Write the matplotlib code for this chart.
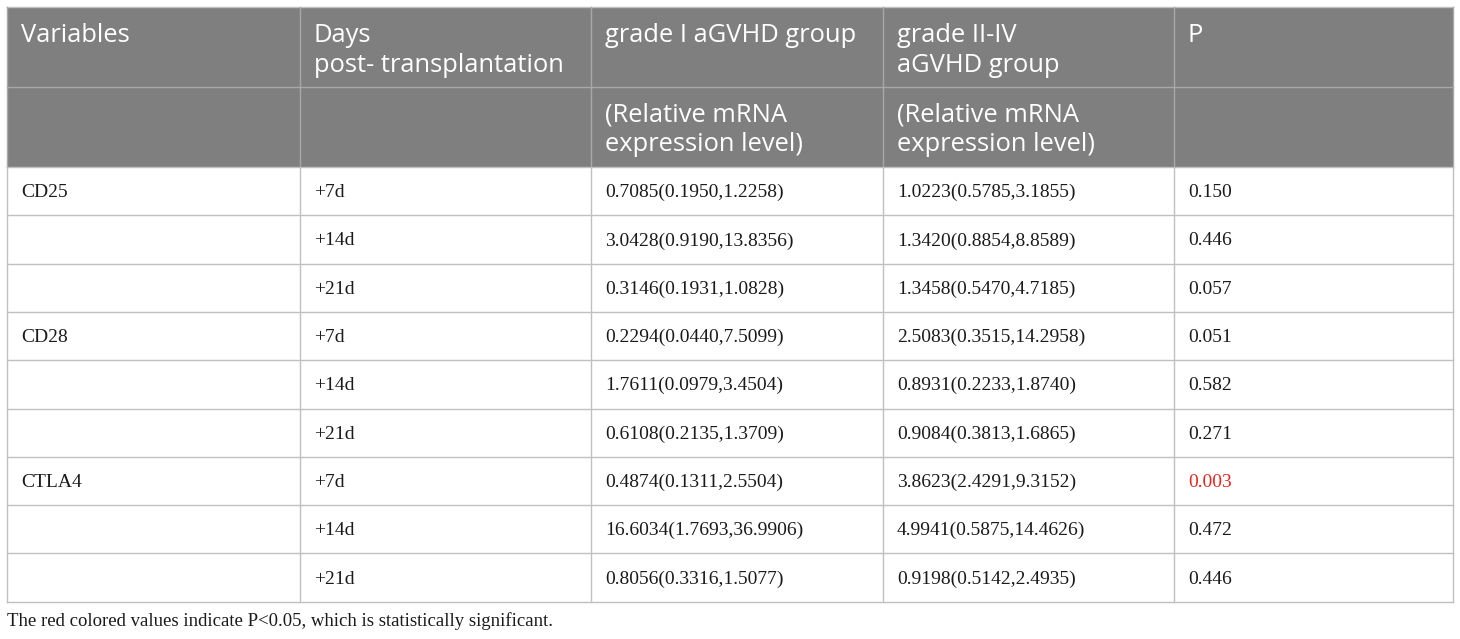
import matplotlib.pyplot as plt
from matplotlib.patches import Rectangle

# table content
header1 = [['Variables'], ['Days', 'post- transplantation'], ['grade I aGVHD group'],
           ['grade II-IV', 'aGVHD group'], ['P']]
header2 = [[], [], ['(Relative mRNA', 'expression level)'],
           ['(Relative mRNA', 'expression level)'], []]
variables = ['CD25', '', '', 'CD28', '', '', 'CTLA4', '', '']
days = ['+7d', '+14d', '+21d'] * 3
grade1 = ['0.7085(0.1950,1.2258)', '3.0428(0.9190,13.8356)', '0.3146(0.1931,1.0828)',
          '0.2294(0.0440,7.5099)', '1.7611(0.0979,3.4504)', '0.6108(0.2135,1.3709)',
          '0.4874(0.1311,2.5504)', '16.6034(1.7693,36.9906)', '0.8056(0.3316,1.5077)']
grade2 = ['1.0223(0.5785,3.1855)', '1.3420(0.8854,8.8589)', '1.3458(0.5470,4.7185)',
          '2.5083(0.3515,14.2958)', '0.8931(0.2233,1.8740)', '0.9084(0.3813,1.6865)',
          '3.8623(2.4291,9.3152)', '4.9941(0.5875,14.4626)', '0.9198(0.5142,2.4935)']
pvals = ['0.150', '0.446', '0.057', '0.051', '0.582', '0.271', '0.003', '0.472', '0.446']
footnote = 'The red colored values indicate P<0.05, which is statistically significant.'

col_x = [7, 300, 591, 883, 1174, 1453]
head_y = [7, 87, 167]
row_h = 48.3

fig = plt.figure(figsize=(14.6, 6.39), dpi=100)
ax = fig.add_axes([0, 0, 1, 1])
ax.set_xlim(0, 1460)
ax.set_ylim(639, 0)
ax.axis('off')

hfont = dict(family='Open Sans', fontsize=18.4, color='white')
body_family = 'Liberation Serif'
body_size = 14
body_color = '#1a1a1a'
grey = '#7f7f7f'
line_c = '#c0c0c0'

# header block
ax.add_patch(Rectangle((col_x[0], head_y[0]), col_x[-1] - col_x[0], head_y[2] - head_y[0],
                       facecolor=grey, edgecolor='none'))
for i in range(5):
    for k, line in enumerate(header1[i]):
        ax.text(col_x[i] + 14, head_y[0] + 35 + k * 30, line, va='baseline', ha='left', **hfont)
    for k, line in enumerate(header2[i]):
        ax.text(col_x[i] + 14, head_y[1] + 35 + k * 29, line, va='baseline', ha='left', **hfont)

# body
n = len(variables)
body_top = head_y[2]
bottom = body_top + n * row_h
columns = [variables, days, grade1, grade2, pvals]
for r in range(n):
    yc = body_top + (r + 0.5) * row_h
    for c, col in enumerate(columns):
        txt = col[r]
        color = '#e8251f' if (c == 4 and float(txt) < 0.05) else body_color
        ax.text(col_x[c] + 14, yc + 6, txt, va='baseline', ha='left',
                family=body_family, fontsize=body_size, color=color)

# grid lines
for r in range(n + 1):
    y = body_top + r * row_h
    ax.plot([col_x[0], col_x[-1]], [y, y], color=line_c, lw=1)
ax.plot([col_x[0], col_x[-1]], [head_y[0], head_y[0]], color=line_c, lw=1)
ax.plot([col_x[0], col_x[-1]], [head_y[1], head_y[1]], color='#a8a8a8', lw=1)
for x in col_x:
    ax.plot([x, x], [head_y[0], head_y[2]], color='#a8a8a8', lw=1)
    ax.plot([x, x], [body_top, bottom], color=line_c, lw=1)

ax.text(col_x[0], 626, footnote, va='baseline', ha='left',
        family=body_family, fontsize=13.5, color=body_color)

fig.savefig('out.png', dpi=100)
